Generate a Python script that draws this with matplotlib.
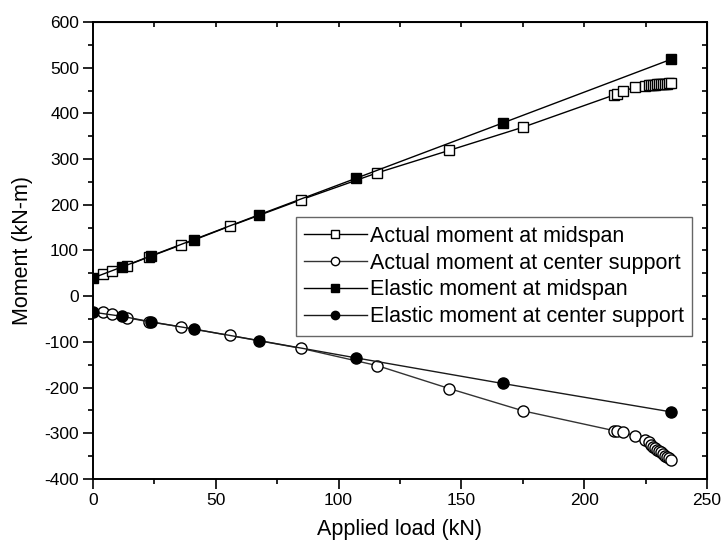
import matplotlib.pyplot as plt
import numpy as np

plt.rcParams['font.family'] = ['Liberation Sans', 'DejaVu Sans']
plt.rcParams['axes.unicode_minus'] = False

# load steps for the measured (actual) moments
actual_load = [3.9, 7.7, 13.7, 22.8, 35.8, 55.6, 84.7, 115.8, 145.0, 175.2,
               212.0, 213.4, 215.7, 220.5, 224.6, 226.4, 227.4, 228.2, 229.0,
               229.8, 230.6, 231.4, 232.2, 233.0, 233.8, 234.6, 235.3]
actual_mid = [48, 56, 67, 86, 112, 153, 211, 270, 319, 370,
              440, 442, 448, 457, 461, 462, 463, 463, 463,
              464, 464, 464, 465, 465, 465, 466, 466]
actual_sup = [-35, -40, -47, -56, -67, -86, -114, -152, -202, -251,
              -294, -295, -298, -305, -314, -320, -325, -329, -333,
              -336, -339, -342, -346, -349, -352, -355, -358]

# load steps for the elastic analysis
elastic_load = [0, 11.8, 23.5, 41.1, 67.5, 107.1, 166.8, 235.2]
elastic_mid = [40, 64, 88, 124, 178, 258, 379, 518]
elastic_sup = [-35, -44, -56, -72, -97, -135, -191, -253]

fig = plt.figure(figsize=(7.22, 5.5), dpi=100)
ax = fig.add_axes([0.1288, 0.1291, 0.8504, 0.8309])

ax.plot(actual_load, actual_mid, 'k-', marker='s', mfc='white', mec='black',
        ms=7.5, lw=1, label='Actual moment at midspan')
ax.plot(actual_load, actual_sup, color='0.2', ls='-', marker='o', mfc='white',
        mec='black', ms=8, lw=1, label='Actual moment at center support')
ax.plot(elastic_load, elastic_mid, 'k-', marker='s', mfc='black', mec='black',
        ms=7.5, lw=1, label='Elastic moment at midspan')
ax.plot(elastic_load, elastic_sup, color='0.1', ls='-', marker='o', mfc='black',
        mec='black', ms=8, lw=1, label='Elastic moment at center support')

ax.set_xlim(0, 250)
ax.set_ylim(-400, 600)
ax.set_xticks(np.arange(0, 251, 50))
ax.set_xticks(np.arange(0, 251, 25), minor=True)
ax.set_yticks(np.arange(-400, 601, 100))
ax.set_yticks(np.arange(-400, 601, 50), minor=True)

ax.tick_params(which='both', direction='out', top=False, right=False,
               labelsize=12.5, width=1.2)
ax.tick_params(which='major', length=7, pad=3)
ax.tick_params(which='minor', length=3.6)
for s in ax.spines.values():
    s.set_linewidth(1.4)

# inward ticks on top and right (no labels)
axt = ax.secondary_xaxis('top')
axt.set_xticks(np.arange(0, 251, 25))
axt.tick_params(direction='in', length=3.6, width=1.2, labeltop=False)
axr = ax.secondary_yaxis('right')
axr.set_yticks(np.arange(-400, 601, 50))
axr.tick_params(direction='in', length=3.6, width=1.2, labelright=False)

ax.set_xlabel('Applied load (kN)', fontsize=15.5, labelpad=8)
ax.set_ylabel('Moment (kN-m)', fontsize=15.5, labelpad=8)

leg = ax.legend(loc='upper left', bbox_to_anchor=(0.33, 0.573),
                borderaxespad=0, fontsize=15.5, fancybox=False,
                edgecolor='0.4', framealpha=1, handlelength=2.9,
                handletextpad=0.15, labelspacing=0.27, borderpad=0.4,
                markerscale=0.75)
leg.get_frame().set_linewidth(1)

fig.savefig('out.png', dpi=100)
